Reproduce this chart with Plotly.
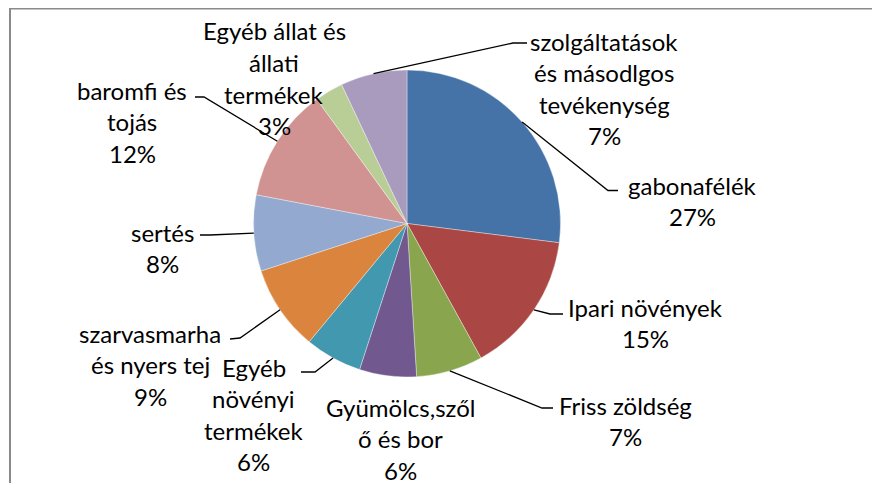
import math
import plotly.graph_objects as go

# ---- data ----
categories = ["gabonafélék", "Ipari növények", "Friss zöldség", "Gyümölcs,szőlő és bor",
              "Egyéb növényi termékek", "szarvasmarha és nyers tej", "sertés",
              "baromfi és tojás", "Egyéb állat és állati termékek",
              "szolgáltatások és másodlgos tevékenység"]
values = [27, 15, 7, 6, 6, 9, 8, 12, 3, 7]
label_lines = [["gabonafélék"], ["Ipari növények"], ["Friss zöldség"],
               ["Gyümölcs,szől", "ő és bor"], ["Egyéb", "növényi", "termékek"],
               ["szarvasmarha", "és nyers tej"], ["sertés"], ["baromfi és", "tojás"],
               ["Egyéb állat és", "állati", "termékek"],
               ["szolgáltatások", "és másodlgos", "tevékenység"]]
colors = ["#4572A7", "#AA4643", "#89A54E", "#71588F", "#4198AF",
          "#DB843D", "#93A9CF", "#D19392", "#B9CD96", "#A99BBD"]

# ---- layout (page pixels; the page body has an 8px margin) ----
OFF = 8
W, H = 880 - OFF, 483 - OFF
CX, CY, R = 407, 223.5, 153.5
label_pos = [(692, 185), (645, 307), (625, 405), (400, 407), (254, 367),
             (150, 333), (162, 232), (132, 90), (274, 31), (604, 41)]
leaders = [((608, 190.5), (618, 190.5)), ((550, 314), (563, 314)),
           ((542, 408), (553, 408)), None, ((315, 372), (301, 372)),
           ((240, 338), (230, 339)), ((210, 235), (200, 235)),
           ((204, 97), (195, 97)), None, ((513, 43), (527, 43))]
LINE_H = 31.5
FONT = dict(family="Lato, 'Open Sans', sans-serif", size=24, color="#000000")


def px(x):
    return (x - OFF) / W


def py(y):
    return 1 - (y - OFF) / H


fig = go.Figure(go.Pie(
    labels=categories, values=values, sort=False, direction="clockwise", rotation=0,
    marker=dict(colors=colors, line=dict(color="rgba(255,255,255,0.6)", width=0.6)),
    textinfo="none", hoverinfo="label+percent", showlegend=False,
    domain=dict(x=[px(CX - R), px(CX + R)], y=[py(CY + R), py(CY - R)]),
))

total = sum(values)
annotations = []
shapes = []
cum = 0
for i, v in enumerate(values):
    mid = (cum + v / 2) / total * 2 * math.pi
    cum += v
    ex, ey = CX + R * math.sin(mid), CY - R * math.cos(mid)
    lx, ly = label_pos[i]
    pct = f"{round(v / total * 100)}%"
    for k, t in enumerate(label_lines[i] + [pct]):
        annotations.append(dict(x=px(lx), y=py(ly + k * LINE_H), xref="paper", yref="paper",
                                text=t, showarrow=False, xanchor="center", yanchor="middle",
                                font=FONT))
    if leaders[i] is not None:
        (bx, by), (tx, ty) = leaders[i]
        path = f"M {px(ex)},{py(ey)} L {px(bx)},{py(by)} L {px(tx)},{py(ty)}"
        shapes.append(dict(type="path", path=path, xref="paper", yref="paper",
                           line=dict(color="#000000", width=1.3)))

# chart frame
shapes.append(dict(type="path", xref="paper", yref="paper",
                   path=f"M {px(10)},{py(H + OFF + 2)} L {px(10)},{py(8.5)} L {px(W + OFF + 2)},{py(8.5)}",
                   line=dict(color="#8a8a8a", width=2)))

fig.update_layout(width=W, height=H, margin=dict(l=0, r=0, t=0, b=0),
                  paper_bgcolor="white", plot_bgcolor="white",
                  annotations=annotations, shapes=shapes)
fig.write_html("out.html")
